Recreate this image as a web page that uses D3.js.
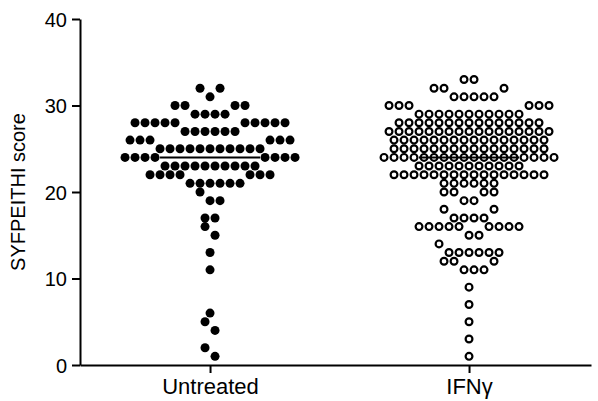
<!DOCTYPE html>
<html>
<head>
<meta charset="utf-8">
<script src="https://cdn.jsdelivr.net/npm/d3@7"></script>
<style>
    body { margin: 0; background: #fff; }
    svg { display: block; }
    text { font-family: "Liberation Sans", Arial, sans-serif; }
</style>
</head>
<body>
<div id="chart"></div>
<script>
// Graph dimension
const width = 598, height = 401
const margin = { top: 19, right: 7, bottom: 36, left: 80 }

// data: how many peptides got each SYFPEITHI score
const groups = ["Untreated", "IFNγ"]
const scores = [1, 2, 3, 4, 5, 6, 7, 8, 9, 10, 11, 12, 13, 14, 15, 16, 17,
    18, 19, 20, 21, 22, 23, 24, 25, 26, 27, 28, 29, 30, 31, 32, 33]
const untreatedCounts = [1, 1, 0, 1, 1, 1, 0, 0, 0, 0, 1, 0, 1, 0, 1, 1, 2,
    0, 2, 1, 6, 7, 10, 8, 11, 6, 6, 10, 4, 4, 1, 2, 0]
const ifnCounts = [1, 0, 1, 0, 1, 0, 1, 0, 1, 0, 3, 3, 6, 1, 2, 9, 4,
    2, 2, 4, 6, 16, 11, 18, 16, 16, 17, 15, 11, 6, 5, 3, 2]
const yTicks = [0, 10, 20, 30, 40]

const y = d3.scaleLinear()
    .domain([0, 40])
    .range([height - margin.bottom, margin.top])

const x = d3.scalePoint()
    .domain(groups)
    .range([margin.left, width - margin.right])
    .padding(0.4865)
    .align(0.516)

const svg = d3.select("#chart")
    .append("svg")
    .attr("width", width)
    .attr("height", height)

function expand(counts) {
    const values = []
    scores.forEach(function (s, i) {
        for (let k = 0; k < counts[i]; k++) values.push(s)
    })
    return values
}

// prism-like scatter: dots closer than one dot diameter share a row,
// lowest scores go in the middle, the rest alternate right / left
function swarm(values, cx) {
    const dot = 10, maxHalf = 85
    const capacity = Math.floor(2 * maxHalf / dot) + 1
    const out = []
    let i = 0
    while (i < values.length) {
        const start = values[i]
        let j = i
        while (j < values.length && y(start) - y(values[j]) < 9) j++
        // a bin that would not fit keeps only its first score
        if (j - i > capacity) {
            j = i
            while (j < values.length && values[j] === start) j++
        }
        const bin = values.slice(i, j)
        const n = bin.length
        const s = n > 1 ? Math.min(dot, 2 * maxHalf / (n - 1)) : dot
        const offs = d3.range(n).map(function (k) { return (k - (n - 1) / 2) * s })
        offs.sort(function (a, b) { return Math.abs(a) - Math.abs(b) || b - a })
        bin.forEach(function (v, k) {
            out.push({ x: cx + offs[k], y: y(v), v: v })
        })
        i = j
    }
    return out
}

const untreated = expand(untreatedCounts)
const ifn = expand(ifnCounts)
const untreatedDots = swarm(untreated, x(groups[0]))
const ifnDots = swarm(ifn, x(groups[1]))
const medians = [d3.median(untreated), d3.median(ifn)]

svg.append("g")
    .selectAll("circle")
    .data(untreatedDots)
    .join("circle")
    .attr("cx", function (d) { return d.x })
    .attr("cy", function (d) { return d.y })
    .attr("r", 4.5)
    .attr("fill", "#000")

svg.append("g")
    .selectAll("circle")
    .data(ifnDots)
    .join("circle")
    .attr("cx", function (d) { return d.x })
    .attr("cy", function (d) { return d.y })
    .attr("r", 3.4)
    .attr("fill", "#fff")
    .attr("stroke", "#000")
    .attr("stroke-width", 2.2)

// median lines
svg.append("g")
    .selectAll("line")
    .data(groups)
    .join("line")
    .attr("x1", function (d) { return x(d) - 50 })
    .attr("x2", function (d) { return x(d) + 50 })
    .attr("y1", function (d, i) { return y(medians[i]) })
    .attr("y2", function (d, i) { return y(medians[i]) })
    .attr("stroke", "#000")
    .attr("stroke-width", 2)

// axes
const yAxis = svg.append("g")
    .attr("transform", `translate(${margin.left},0)`)
    .call(d3.axisLeft(y).tickValues(yTicks).tickSize(8).tickSizeOuter(0).tickPadding(5))

const xAxis = svg.append("g")
    .attr("transform", `translate(0,${height - margin.bottom})`)
    .call(d3.axisBottom(x).tickSize(8).tickSizeOuter(0).tickPadding(5))

yAxis.selectAll("path, line").attr("stroke", "#000").attr("stroke-width", 2)
xAxis.selectAll("path, line").attr("stroke", "#000").attr("stroke-width", 2)
yAxis.selectAll("text").style("font-size", "20px").attr("fill", "#000").attr("dy", "0.36em")
xAxis.selectAll("text").style("font-size", "22px").attr("fill", "#000")

svg.append("text")
    .attr("transform", `translate(25,${(y(0) + y(40)) / 2})rotate(-90)`)
    .attr("text-anchor", "middle")
    .attr("fill", "#000")
    .style("font-size", "20px")
    .text("SYFPEITHI score")
</script>
</body>
</html>
